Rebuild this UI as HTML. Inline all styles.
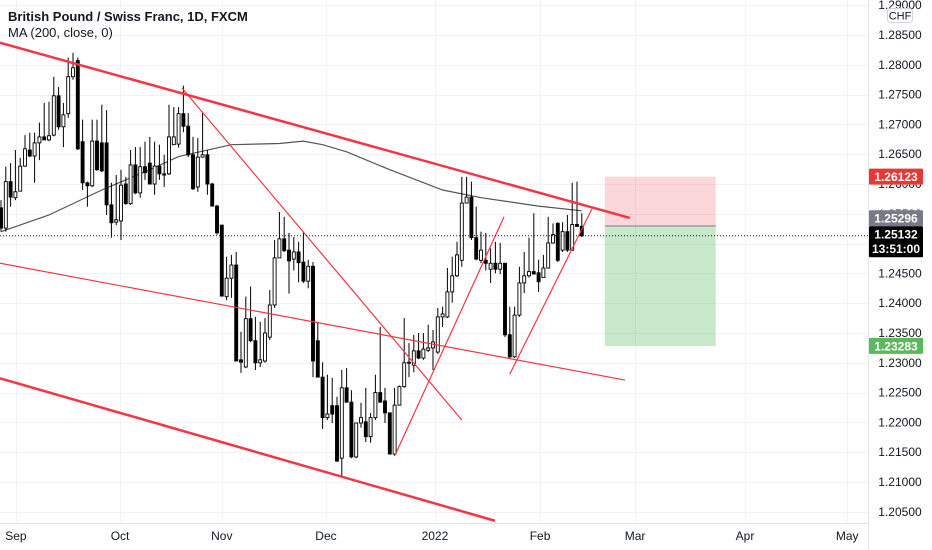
<!DOCTYPE html>
<html><head><meta charset="utf-8">
<style>
html,body{margin:0;padding:0;background:#fff;width:932px;height:550px;overflow:hidden}
svg{display:block;font-family:"Liberation Sans",sans-serif}
</style></head>
<body>
<svg id="chart" width="932" height="550" viewBox="0 0 932 550" xmlns="http://www.w3.org/2000/svg">
<g id="grid"></g>
<g id="drawings"></g>
<g id="candles"></g>
<g id="overlay"></g>
<rect x="868" y="0" width="64" height="550" fill="#fff"/>
<line x1="868.5" y1="0" x2="868.5" y2="550" stroke="#e0e3eb"/>
<line x1="0" y1="523.5" x2="868" y2="523.5" stroke="#e0e3eb"/>
<g id="yaxis"></g>
<g id="xaxis"></g>
<text x="8" y="21" font-size="13" font-weight="bold" fill="#131722">British Pound / Swiss Franc, 1D, FXCM</text>
<text x="8" y="37" font-size="13" fill="#131722">MA (200, close, 0)</text>
</svg>
<script>
const opens=[1.2560,1.2526,1.2604,1.2577,1.2588,1.2630,1.2657,1.2647,1.2669,1.2679,1.2674,1.2682,1.2748,1.2696,1.2718,1.2780,1.2807,1.2671,1.2602,1.2597,1.2672,1.2669,1.2669,1.2565,1.2536,1.2538,1.2600,1.2567,1.2632,1.2585,1.2629,1.2635,1.2600,1.2630,1.2617,1.2617,1.2666,1.2667,1.2718,1.2697,1.2649,1.2595,1.2645,1.2649,1.2600,1.2563,1.2531,1.2411,1.2442,1.2464,1.2305,1.2293,1.2374,1.2337,1.2300,1.2303,1.2343,1.2397,1.2476,1.2508,1.2489,1.2474,1.2486,1.2469,1.2437,1.2462,1.2337,1.2276,1.2208,1.2228,1.2228,1.2140,1.2258,1.2234,1.2142,1.2199,1.2201,1.2176,1.2208,1.2250,1.2236,1.2216,1.2147,1.2229,1.2260,1.2300,1.2296,1.2320,1.2308,1.2321,1.2325,1.2318,1.2377,1.2377,1.2419,1.2446,1.2472,1.2568,1.2578,1.2510,1.2472,1.2472,1.2457,1.2467,1.2457,1.2467,1.2347,1.2310,1.2380,1.2434,1.2446,1.2453,1.2451,1.2443,1.2459,1.2501,1.2534,1.2489,1.2520,1.2489,1.2532,1.2529];
const highs=[1.2573,1.2629,1.2635,1.2657,1.2644,1.2682,1.2686,1.2686,1.2703,1.2736,1.2738,1.2780,1.2763,1.2736,1.2812,1.2820,1.2812,1.2708,1.2604,1.2708,1.2708,1.2733,1.2724,1.2602,1.2615,1.2624,1.2612,1.2657,1.2662,1.2662,1.2671,1.2679,1.2671,1.2666,1.2649,1.2733,1.2729,1.2729,1.2765,1.2719,1.2679,1.2677,1.2719,1.2657,1.2602,1.2565,1.2531,1.2478,1.2481,1.2486,1.2352,1.2411,1.2428,1.2377,1.2369,1.2375,1.2422,1.2506,1.2553,1.2545,1.2518,1.2511,1.2503,1.2520,1.2473,1.2469,1.2369,1.2301,1.2280,1.2275,1.2243,1.2288,1.2291,1.2254,1.2199,1.2233,1.2258,1.2216,1.2280,1.2360,1.2258,1.2216,1.2258,1.2262,1.2375,1.2333,1.2347,1.2350,1.2350,1.2364,1.2355,1.2392,1.2394,1.2459,1.2478,1.2503,1.2612,1.2612,1.2604,1.2562,1.2520,1.2518,1.2492,1.2503,1.2501,1.2467,1.2394,1.2394,1.2461,1.2486,1.2510,1.2551,1.2473,1.2481,1.2545,1.2534,1.2536,1.2536,1.2548,1.2602,1.2604,1.2551];
const lows=[1.2520,1.2520,1.2562,1.2573,1.2588,1.2629,1.2645,1.2602,1.2640,1.2674,1.2672,1.2680,1.2691,1.2662,1.2711,1.2775,1.2657,1.2590,1.2562,1.2595,1.2622,1.2620,1.2548,1.2510,1.2531,1.2506,1.2565,1.2565,1.2583,1.2577,1.2607,1.2600,1.2582,1.2607,1.2595,1.2615,1.2666,1.2661,1.2687,1.2645,1.2590,1.2587,1.2645,1.2582,1.2562,1.2515,1.2411,1.2405,1.2409,1.2303,1.2283,1.2291,1.2335,1.2288,1.2293,1.2300,1.2338,1.2392,1.2476,1.2486,1.2416,1.2455,1.2435,1.2434,1.2425,1.2276,1.2276,1.2189,1.2204,1.2199,1.2134,1.2107,1.2233,1.2140,1.2140,1.2191,1.2167,1.2166,1.2204,1.2233,1.2199,1.2146,1.2144,1.2228,1.2258,1.2276,1.2284,1.2306,1.2305,1.2318,1.2288,1.2315,1.2360,1.2375,1.2401,1.2444,1.2461,1.2568,1.2506,1.2472,1.2467,1.2455,1.2434,1.2450,1.2449,1.2343,1.2308,1.2308,1.2377,1.2417,1.2443,1.2448,1.2419,1.2443,1.2458,1.2500,1.2469,1.2486,1.2486,1.2488,1.2528,1.2511];
const closes=[1.2526,1.2604,1.2578,1.2587,1.2630,1.2659,1.2647,1.2669,1.2679,1.2674,1.2681,1.2748,1.2696,1.2716,1.2780,1.2795,1.2659,1.2602,1.2597,1.2672,1.2624,1.2622,1.2565,1.2535,1.2540,1.2598,1.2567,1.2632,1.2585,1.2629,1.2619,1.2600,1.2630,1.2617,1.2615,1.2679,1.2679,1.2718,1.2697,1.2649,1.2592,1.2645,1.2649,1.2600,1.2563,1.2518,1.2412,1.2442,1.2464,1.2303,1.2301,1.2374,1.2337,1.2300,1.2305,1.2350,1.2397,1.2476,1.2508,1.2488,1.2471,1.2486,1.2468,1.2437,1.2462,1.2303,1.2276,1.2208,1.2214,1.2214,1.2135,1.2258,1.2234,1.2142,1.2199,1.2208,1.2176,1.2208,1.2250,1.2234,1.2216,1.2147,1.2229,1.2260,1.2300,1.2301,1.2320,1.2308,1.2323,1.2325,1.2335,1.2377,1.2382,1.2419,1.2446,1.2481,1.2568,1.2578,1.2510,1.2474,1.2489,1.2467,1.2467,1.2457,1.2467,1.2347,1.2310,1.2380,1.2434,1.2446,1.2453,1.2449,1.2436,1.2459,1.2501,1.2515,1.2472,1.2520,1.2489,1.2532,1.2529,1.2513];
const maBars=[1,11,22,32,38,49,59,64,68,73,82,93,101,113,122];
const maValues=[1.2520,1.2548,1.2590,1.2624,1.2646,1.2666,1.2668,1.2672,1.2666,1.2654,1.2624,1.2590,1.2577,1.2563,1.2555];
const priceTicks=[1.290,1.285,1.280,1.275,1.270,1.265,1.260,1.255,1.250,1.245,1.240,1.235,1.230,1.225,1.220,1.215,1.210,1.205];
const monthLabels=["Sep","Oct","Nov","Dec","2022","Feb","Mar","Apr","May"];
const monthBars=[4.1,25.8,47.0,68.7,91.4,113.3,133.1,156.0,177.3];
const trendLines=[[0.79,1.2837,132.0,1.2543,2.5],[0.79,1.2467,131,1.2271,1.2],[0.79,1.2274,103.9,1.2035,2.5],[38.7,1.2761,97,1.2204,1.2],[83.1,1.2145,105.8,1.2545,1.2],[107,1.2281,124.1,1.2558,1.2]];
const stopPrice=1.26123, entryPrice=1.25296, targetPrice=1.23283, lastPrice=1.25132;
const posStartBar=126.8, posEndBar=149.9;

const NS="http://www.w3.org/2000/svg";
function X(i){return 1+4.8*(i-1);}
function Y(p){return 35+(1.285-p)/0.005*29.8;}
function mk(tag,attrs,parent){const e=document.createElementNS(NS,tag);for(const k in attrs)e.setAttribute(k,attrs[k]);parent.appendChild(e);return e;}
const grid=document.getElementById('grid'),cg=document.getElementById('candles'),dg=document.getElementById('drawings'),ov=document.getElementById('overlay'),ya=document.getElementById('yaxis'),xa=document.getElementById('xaxis');

priceTicks.forEach(p=>{
  const y=Math.round(Y(p))+0.5;
  const l=mk('line',{x1:0,y1:y,x2:868,y2:y,stroke:'#f0f3fa'},grid);
  
  
  const t=mk('text',{x:900,y:Y(p)+4,'font-size':12,fill:'#131722','text-anchor':'middle'},ya);
  t.textContent=p.toFixed(5);
  
  
});
monthBars.forEach((b,i)=>{
  const x=Math.round(X(b))+0.5;
  const l=mk('line',{x1:x,y1:0,x2:x,y2:523,stroke:'#f0f3fa'},grid);
  
  
  const t=mk('text',{x:X(b),y:540,'font-size':12,fill:'#131722','text-anchor':'middle'},xa);
  t.textContent=monthLabels[i];
  
  
});

const x0=X(posStartBar),x1=X(posEndBar);
const sz=mk('rect',{x:x0,y:Y(stopPrice),width:x1-x0,height:Y(entryPrice)-Y(stopPrice),fill:'rgba(242,54,69,0.2)'},dg);


const tz=mk('rect',{x:x0,y:Y(entryPrice),width:x1-x0,height:Y(targetPrice)-Y(entryPrice),fill:'rgba(76,175,80,0.3)'},dg);


const el=mk('line',{x1:x0,y1:Y(entryPrice),x2:x1,y2:Y(entryPrice),stroke:'#787b86','stroke-width':1},dg);



let d='';
maBars.forEach((b,i)=>{d+=(i?'L':'M')+X(b).toFixed(1)+' '+Y(maValues[i]).toFixed(1);});
const ma=mk('path',{d:d,fill:'none',stroke:'#555','stroke-width':1.2},dg);



for(let i=0;i<closes.length;i++){
  const b=i+1,x=X(b),up=closes[i]>=opens[i];
  const w=mk('line',{x1:x,y1:Y(highs[i]),x2:x,y2:Y(lows[i]),stroke:'#000','stroke-width':1},cg);
  
  
  const top=Y(Math.max(opens[i],closes[i])),bot=Y(Math.min(opens[i],closes[i]));
  const r=mk('rect',{x:x-1.5,y:top,width:3,height:Math.max(1,bot-top),fill:up?'#fff':'#000',stroke:'#000','stroke-width':0.9},cg);
  
  
}

trendLines.forEach(t=>{
  const l=mk('line',{x1:X(t[0]),y1:Y(t[1]),x2:X(t[2]),y2:Y(t[3]),stroke:'#f23645','stroke-width':t[4]},ov);
  
  
});
const lp=mk('line',{x1:0,y1:Y(lastPrice),x2:868,y2:Y(lastPrice),stroke:'#131722','stroke-width':1,'stroke-dasharray':'1 2'},ov);



function tag(yc,fill,txt,name,h){
  const r=mk('rect',{x:869,y:yc-8,width:54,height:h||16,fill:fill,rx:1},ya);
  
  
  const t=mk('text',{x:896,y:yc+4.5,'font-size':12,'font-weight':'bold',fill:'#fff','text-anchor':'middle'},ya);
  t.textContent=txt;
  
  
}
function mask(yc,h){mk('rect',{x:869,y:yc-8,width:63,height:h,fill:'#fff'},ya);}
const yStop=Y(stopPrice), yLast=Y(lastPrice)-1.5, yEntry=yLast-16, yTarget=Y(targetPrice);
mask(yStop,16);mask(yEntry,16);mask(yLast,31);mask(yTarget,16);
tag(yStop,'#e53935',stopPrice.toFixed(5),'stop-price-label');
tag(yEntry,'#787b86',entryPrice.toFixed(5),'entry-price-label');
tag(yTarget,'#5cb85c',targetPrice.toFixed(5),'target-price-label');
tag(yLast,'#000',lastPrice.toFixed(5),'last-price-label',31);
const cd=mk('text',{x:896,y:yLast+19,'font-size':12,'font-weight':'bold',fill:'#fff','text-anchor':'middle'},ya);
cd.textContent='13:51:00';


const cb=mk('rect',{x:887.5,y:8.5,width:25,height:14,rx:3,fill:'#fff',stroke:'#d1d4dc'},ya);


const ct=mk('text',{x:900,y:19.5,'font-size':11,fill:'#131722','text-anchor':'middle'},ya);
ct.textContent='CHF';


</script>
</body></html>
